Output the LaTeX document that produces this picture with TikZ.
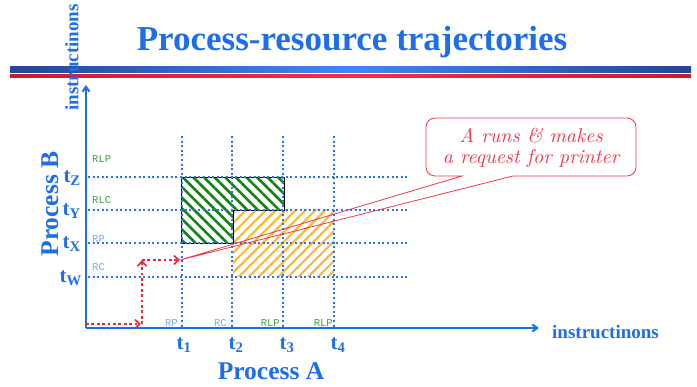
\documentclass[tikz,border=0pt]{standalone}
\usepackage{fontspec}
\setmainfont{Liberation Serif}
\setmonofont{Liberation Mono}
\newfontfamily\calloutfont{lmroman10-italic}[Extension=.otf]
\usetikzlibrary{arrows.meta,patterns.meta}
\definecolor{tblue}{RGB}{30,110,235}
\definecolor{gblue}{RGB}{40,115,240}
\definecolor{lblue}{RGB}{125,165,240}
\definecolor{lgreen}{RGB}{60,160,60}
\definecolor{hgreen}{RGB}{20,130,20}
\definecolor{horange}{RGB}{250,185,60}
\definecolor{tred}{RGB}{240,55,75}
\definecolor{pred}{RGB}{235,40,55}
\definecolor{bardark}{RGB}{35,70,150}
\definecolor{barlight}{RGB}{65,135,245}
\definecolor{reddark}{RGB}{195,30,45}
\definecolor{redlight}{RGB}{250,45,60}
\begin{document}
\begin{tikzpicture}[x=1pt,y=-1pt,
  gridline/.style={gblue,line width=2pt,dash pattern=on 2pt off 2.6pt},
  axisline/.style={tblue,line width=2pt,-{Straight Barb[length=5pt,width=7pt]}},
  tlabel/.style={tblue,font=\fontsize{21}{21}\selectfont\bfseries,inner sep=0pt},
  rlab/.style={font=\fontsize{10.5}{10.5}\selectfont\ttfamily,inner sep=0pt},
  redpath/.style={pred,line width=2.8pt,dash pattern=on 2.8pt off 2.6pt,-{Straight Barb[length=5pt,width=9pt,line width=1.6pt]}},
  bigblue/.style={tblue,font=\fontsize{25.5}{25.5}\selectfont\bfseries,inner sep=0pt},
  axlab/.style={tblue,font=\fontsize{19}{19}\selectfont\bfseries,inner sep=0pt}]
\useasboundingbox (0,0) rectangle (697,387);
% title and bars
\node[tblue,font=\fontsize{35}{35}\selectfont\bfseries,inner sep=0pt] (title) at (352,42) {Process-resource trajectories};
\shade[left color=bardark,right color=bardark,middle color=barlight] (10,67) rectangle (691,73);
\shade[left color=reddark,right color=reddark,middle color=redlight] (10,75) rectangle (691,78);
% hatched regions
\fill[pattern={Lines[angle=45,distance=7pt,line width=2.2pt]},pattern color=horange] (233,210) rectangle (334,277);
\fill[pattern={Lines[angle=-45,distance=7.5pt,line width=2.6pt]},pattern color=hgreen] (181,177) -- (284,177) -- (284,210) -- (233,210) -- (233,243) -- (181,243) -- cycle;
\draw[black,line width=0.8pt] (181,177) -- (284,177) -- (284,210) -- (233,210) -- (233,243) -- (181,243) -- cycle;
% grid
\foreach \yy in {177,210,243,277} \draw[gridline] (88,\yy) -- (408,\yy);
\foreach \xx in {182,232,283,334} \draw[gridline] (\xx,136) -- (\xx,327);
% axes
\coordinate (O) at (86,328);
\coordinate (ytop) at (86,85);
\coordinate (xend) at (539,328);
\draw[axisline] (O) -- (ytop);
\draw[axisline] (O) -- (xend);
\node[axlab,rotate=90,anchor=east] (ylab) at (72,4) {instructinons};
\node[axlab,anchor=west] (xlab) at (552,332) {instructinons};
\node[bigblue,rotate=90] (pb) at (50,204) {Process B};
\node[bigblue] (pa) at (271,371) {Process A};
% t labels
\node[tlabel,anchor=east] (tz) at (81,178) {t\textsubscript{Z}};
\node[tlabel,anchor=east] (ty) at (81,211) {t\textsubscript{Y}};
\node[tlabel,anchor=east] (tx) at (81,244) {t\textsubscript{X}};
\node[tlabel,anchor=east] (tw) at (82,278) {t\textsubscript{W}};
\node[tlabel] (t1) at (184,345) {t\textsubscript{1}};
\node[tlabel] (t2) at (236,345) {t\textsubscript{2}};
\node[tlabel] (t3) at (287,345) {t\textsubscript{3}};
\node[tlabel] (t4) at (338,345) {t\textsubscript{4}};
% resource labels
\node[rlab,lgreen,anchor=west] (l1) at (92,159) {RLP};
\node[rlab,lgreen,anchor=west] (l2) at (92,200) {RLC};
\node[rlab,lblue,anchor=west] (l3) at (92,239) {RP};
\node[rlab,lblue,anchor=west] (l4) at (92,267) {RC};
\node[rlab,lblue,anchor=east] (b1) at (178,323) {RP};
\node[rlab,lblue,anchor=east] (b2) at (227,323) {RC};
\node[rlab,lgreen,anchor=east] (b3) at (280,323) {RLP};
\node[rlab,lgreen,anchor=east] (b4) at (333,323) {RLP};
% red trajectory
\coordinate (p0) at (86,324);
\coordinate (p1) at (142,324);
\coordinate (p1a) at (141,324);
\coordinate (p2) at (142,260);
\coordinate (tip) at (180,260);
\draw[redpath] (p0) -- (p1a);
\draw[redpath] (p1) -- (p2);
\draw[redpath] (p2) -- (tip);
% callout
\node[tred,font=\fontsize{20}{21}\calloutfont,align=center,inner sep=0pt] (callout) at (531,148) {A runs \& makes\\a request for printer};
\coordinate (cl) at (462,176);
\coordinate (cr) at (513,176);
\draw[tred,line width=0.8pt] (cl) -- (tip) -- (cr) [rounded corners=9pt] -- (636,176) -- (636,118) -- (426,118) -- (426,176) [sharp corners] -- cycle;
\end{tikzpicture}
\end{document}
